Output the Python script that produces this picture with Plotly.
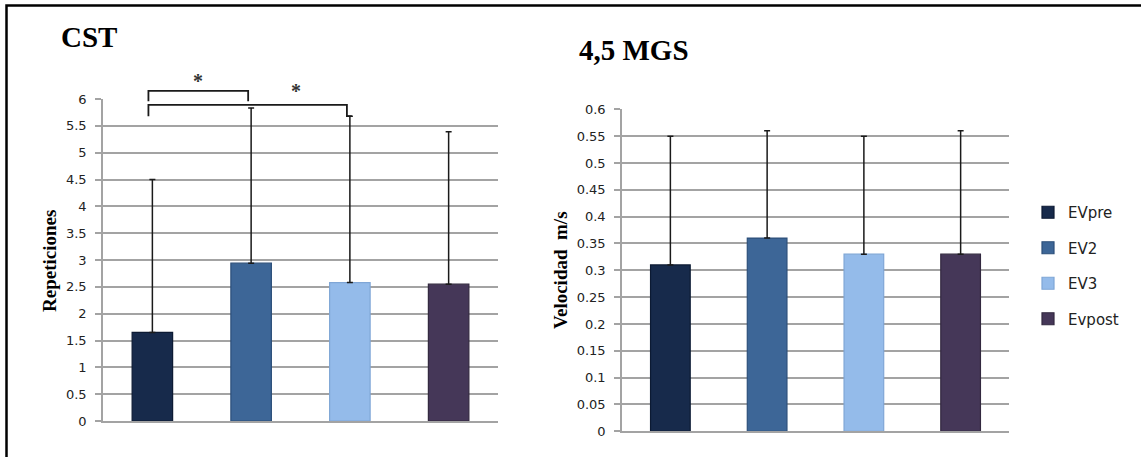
import plotly.graph_objects as go

W, H = 1141, 457

series = ["EVpre", "EV2", "EV3", "Evpost"]
colors = ["#172a4b", "#3d6697", "#94bbea", "#453758"]
edge_colors = ["#0c1a33", "#2c4f7a", "#7fa6d6", "#32283f"]

cst_mean = [1.65, 2.94, 2.58, 2.55]
cst_err = [2.85, 2.89, 3.10, 2.84]
mgs_mean = [0.31, 0.36, 0.33, 0.33]
mgs_err = [0.24, 0.20, 0.22, 0.23]

cst_ticks = [0, 0.5, 1, 1.5, 2, 2.5, 3, 3.5, 4, 4.5, 5, 5.5, 6]
cst_ticktext = ["0", "0.5", "1", "1.5", "2", "2.5", "3", "3.5", "4", "4.5", "5", "5.5", "6"]
mgs_ticks = [0, 0.05, 0.1, 0.15, 0.2, 0.25, 0.3, 0.35, 0.4, 0.45, 0.5, 0.55, 0.6]
mgs_ticktext = ["0", "0.05", "0.1", "0.15", "0.2", "0.25", "0.3", "0.35", "0.4", "0.45", "0.5", "0.55", "0.6"]

# significance brackets on CST: (from category, to category, top, left leg end, right leg end)
brackets = [(0, 1, 6.15, 5.96, 5.96), (0, 2, 5.89, 5.68, 5.68)]
# significance stars: (category position, value)
stars = [(0.46, 6.335), (1.45, 6.14)]

# layout geometry (paper fractions)
x1_dom = [103 / W, 498 / W]
y1_dom = [1 - 421 / H, 1 - 99 / H]
x2_dom = [622 / W, 1009 / W]
y2_dom = [1 - 431.3 / H, 1 - 109.3 / H]
cst_range = [0, 6]
mgs_range = [0, 0.6]


def y1_paper(v):
    return y1_dom[0] + (v - cst_range[0]) / (cst_range[1] - cst_range[0]) * (y1_dom[1] - y1_dom[0])


fig = go.Figure()

for i, s in enumerate(series):
    fig.add_trace(go.Bar(
        x=[s], y=[cst_mean[i]], name=s, legendgroup=s, showlegend=True,
        marker=dict(color=colors[i], line=dict(color=edge_colors[i], width=1.2)),
        width=0.41,
        error_y=dict(type="data", symmetric=False, array=[cst_err[i]], arrayminus=[0],
                     color="#1a1a1a", thickness=1.5, width=3),
        xaxis="x", yaxis="y",
    ))
for i, s in enumerate(series):
    fig.add_trace(go.Bar(
        x=[s], y=[mgs_mean[i]], name=s, legendgroup=s, showlegend=False,
        marker=dict(color=colors[i], line=dict(color=edge_colors[i], width=1.2)),
        width=0.41,
        error_y=dict(type="data", symmetric=False, array=[mgs_err[i]], arrayminus=[0],
                     color="#1a1a1a", thickness=1.5, width=3),
        xaxis="x2", yaxis="y2",
    ))

grid = "#a3a3a3"
tickfont = dict(family="DejaVu Sans", size=13, color="#222222")

common_x = dict(type="category", categoryorder="array", categoryarray=series,
                range=[-0.5, 3.5], showticklabels=False, ticks="", showgrid=False,
                showline=True, linecolor=grid, linewidth=2, zeroline=False, fixedrange=True)
fig.update_layout(
    width=W, height=H,
    margin=dict(l=0, r=0, t=0, b=0),
    paper_bgcolor="white", plot_bgcolor="white",
    barmode="overlay",
    showlegend=True,
    xaxis=dict(domain=x1_dom, anchor="y", **common_x),
    xaxis2=dict(domain=x2_dom, anchor="y2", **common_x),
    yaxis=dict(domain=y1_dom, anchor="x", range=cst_range, tickvals=cst_ticks, ticktext=cst_ticktext,
               showgrid=True, gridcolor=grid, gridwidth=1.5, ticks="outside", ticklen=6,
               tickcolor=grid, tickwidth=1.5, showline=True, linecolor=grid, linewidth=1.5,
               zeroline=False, tickfont=tickfont, ticklabelstandoff=6, automargin=False),
    yaxis2=dict(domain=y2_dom, anchor="x2", range=mgs_range, tickvals=mgs_ticks, ticktext=mgs_ticktext,
                showgrid=True, gridcolor=grid, gridwidth=1.5, ticks="outside", ticklen=6,
                tickcolor=grid, tickwidth=1.5, showline=True, linecolor=grid, linewidth=1.5,
                zeroline=False, tickfont=tickfont, ticklabelstandoff=6, automargin=False),
    legend=dict(x=1028 / W, y=1 - 196 / H, xanchor="left", yanchor="top",
                font=dict(family="DejaVu Sans", size=15, color="#222222"),
                tracegroupgap=13, bgcolor="rgba(0,0,0,0)", traceorder="grouped"),
)

serif_bold = "Liberation Serif"
annotations = [
    dict(text="<b>CST</b>", x=59 / W, y=1 - 37 / H, xref="paper", yref="paper",
         xanchor="left", yanchor="middle", showarrow=False,
         font=dict(family=serif_bold, size=29, color="black")),
    dict(text="<b>4,5 MGS</b>", x=577 / W, y=1 - 49.5 / H, xref="paper", yref="paper",
         xanchor="left", yanchor="middle", showarrow=False,
         font=dict(family=serif_bold, size=29, color="black")),
    dict(text="<b>Repeticiones</b>", x=49 / W, y=1 - 261 / H, xref="paper", yref="paper",
         xanchor="center", yanchor="middle", textangle=-90, showarrow=False,
         font=dict(family=serif_bold, size=19, color="black")),
    dict(text="<b>Velocidad  m/s</b>", x=560 / W, y=1 - 270 / H, xref="paper", yref="paper",
         xanchor="center", yanchor="middle", textangle=-90, showarrow=False,
         font=dict(family=serif_bold, size=19, color="black")),
]

shapes = [
    dict(type="rect", xref="paper", yref="paper", x0=6.5 / W, x1=1.05, y0=-0.05, y1=1 - 5.5 / H,
         line=dict(color="black", width=2.5), fillcolor="rgba(0,0,0,0)", layer="above"),
]
for (a, b, top, legL, legR) in brackets:
    xa = a - 0.04
    xb = b - 0.03
    path = (f"M {xa},{y1_paper(legL)} L {xa},{y1_paper(top)} L {xb},{y1_paper(top)} "
            f"L {xb},{y1_paper(legR)}")
    if b == 2:
        path += f" L {b + 0.02},{y1_paper(legR)}"
    shapes.append(dict(type="path", xref="x", yref="paper", path=path,
                       line=dict(color="#1a1a1a", width=1.8), layer="above"))

for (sx, sy) in stars:
    annotations.append(dict(text="<b>*</b>", x=sx, y=y1_paper(sy),
                            xref="x", yref="paper", xanchor="center", yanchor="middle",
                            showarrow=False, font=dict(family=serif_bold, size=20, color="#333333")))

fig.update_layout(annotations=annotations, shapes=shapes)

fig.write_html("out.html", post_script="document.body.style.margin='0';",
               config={"displayModeBar": False})
